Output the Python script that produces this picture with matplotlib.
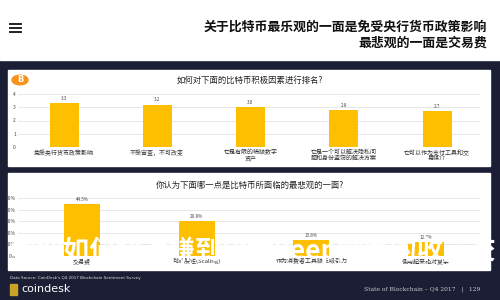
import matplotlib.pyplot as plt
from matplotlib.patches import Rectangle, Circle

plt.rcParams['font.family'] = ['Noto Sans CJK SC', 'DejaVu Sans']

# data
title_lines = ["关于比特币最乐观的一面是免受央行货币政策影响", "最悲观的一面是交易费"]

q1_title = "如何对下面的比特币积极因素进行排名?"
q1_labels = ["免受央行货币政策影响", "不受审查，不可改变", "它是有限的稀缺数字\n资产",
             "它是一个可以解决隐私问\n题和身份盗窃的解决方案", "它可以作为支付工具和交\n易媒介"]
q1_values = [3.3, 3.2, 3.0, 2.8, 2.7]
q1_ticks = [0, 1, 2, 3, 4]

q2_title = "你认为下面哪一点是比特币所面临的最悲观的一面?"
q2_labels = ["交易费", "可扩展性(Scaling)", "作为消费者工具缺乏吸引力", "使用起来相对复杂"]
q2_values = [44.5, 29.8, 13.8, 12.0]
q2_ticks = [0, 10, 20, 30, 40, 50]

source = "Data Source: CoinDesk's Q4 2017 Blockchain Sentiment Survey"
page_note = "State of Blockchain – Q4 2017   |   129"
overlay = "教你如何快速赚到比特keep网络的收益交"

navy = "#1b1e35"
gold = "#fdbf00"

W, H = 500, 300
fig = plt.figure(figsize=(5, 3), dpi=100)
fig.patch.set_facecolor(navy)


def fx(px):
    return px / W


def fy(py):
    return 1 - py / H


def box(x0, y0, x1, y1, color):
    fig.patches.append(Rectangle((fx(x0), fy(y1)), fx(x1 - x0), (y1 - y0) / H,
                                 transform=fig.transFigure, color=color, zorder=-5))


# white header band and panels
box(0, 0, 500, 60, "white")
box(8, 70, 490, 166, "white")
box(8, 173, 490, 270, "white")

# hamburger icon
for yy in [24, 28, 32]:
    fig.add_artist(plt.Line2D([fx(10), fx(21)], [fy(yy), fy(yy)], color="#222222", lw=1.4))

fig.text(fx(487), fy(27), title_lines[0], ha="right", va="center", fontsize=9.3,
         fontweight="bold", color="#111111")
fig.text(fx(487), fy(43), title_lines[1], ha="right", va="center", fontsize=9.3,
         fontweight="bold", color="#111111")

# bitcoin badge
fig.patches.append(Circle((fx(20), fy(80)), 8 / W, transform=fig.transFigure,
                          color="#f7931a", zorder=2))
fig.text(fx(20), fy(80), "B", ha="center", va="center", fontsize=6, fontweight="bold",
         color="white", family="DejaVu Sans")

fig.text(fx(250), fy(80), q1_title, ha="center", va="center", fontsize=6, color="#222222")
fig.text(fx(250), fy(185), q2_title, ha="center", va="center", fontsize=6, color="#222222")


def bar_axes(left, right, top, bottom, first, step, n, values, labels, ticks, fmt, width_px):
    ax = fig.add_axes([fx(left), fy(bottom), fx(right - left), (bottom - top) / H])
    ax.set_facecolor("none")
    pos = list(range(n))
    ax.bar(pos, values, width=width_px / step, color=gold, zorder=3)
    ax.set_xlim((left - first) / step, (right - first) / step)
    ax.set_ylim(ticks[0], ticks[-1])
    ax.set_yticks(ticks)
    ax.set_yticklabels([fmt(t) for t in ticks], fontsize=3.5, color="#444444")
    ax.set_xticks(pos)
    ax.set_xticklabels(labels, fontsize=4.3, color="#333333", linespacing=1.0)
    ax.tick_params(length=0, pad=1.5)
    ax.grid(axis="y", color="#e4e4e4", lw=0.6, zorder=0)
    for s in ax.spines.values():
        s.set_visible(False)
    for p, v in zip(pos, values):
        ax.text(p, v + (ticks[-1] - ticks[0]) * 0.04, fmt(v, True), ha="center", va="bottom",
                fontsize=3.3, color="#444444")
    return ax


bar_axes(18, 480, 94, 147, 64, 93.25, 5, q1_values, q1_labels, q1_ticks,
         lambda v, lab=False: f"{v:.1f}" if lab else f"{v:g}", 29)
bar_axes(18, 480, 198, 256, 82, 114.7, 4, q2_values, q2_labels, q2_ticks,
         lambda v, lab=False: f"{v:.1f}%" if lab else f"{v:g}%", 36)

# footer
fig.text(fx(10), fy(278), source, ha="left", va="center", fontsize=3, color="#dddddd",
         family="DejaVu Sans")
fig.patches.append(Rectangle((fx(10), fy(295)), fx(7), 11 / H, transform=fig.transFigure,
                             color="#c9a227", zorder=2))
fig.text(fx(21), fy(289), "coindesk", ha="left", va="center", fontsize=8, color="white",
         family="DejaVu Sans")
fig.text(fx(480), fy(289), page_note, ha="right", va="center", fontsize=4.3,
         color="#cccccc", family="DejaVu Serif")

# big white overlay caption
fig.text(fx(11), fy(251), overlay, ha="left", va="center", fontsize=19, fontweight="bold",
         color="white", zorder=10)

fig.savefig("out.png", dpi=100, facecolor=navy)
